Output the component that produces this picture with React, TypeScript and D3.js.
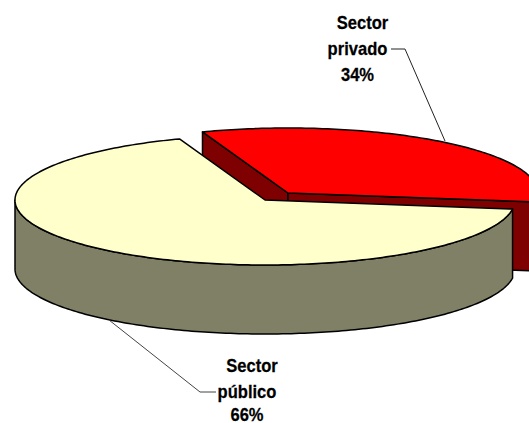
import React from "react";
import * as d3 from "d3";

const categories = ["Sector privado", "Sector público"];
const shares = [34, 66];
const labelLines = [["Sector", "privado", "34%"], ["Sector", "público", "66%"]];
const sliceColors = ["#FF0000", "#FFFFCC"];
const wallColors = ["#7F0000", "#808066"];

const deg = Math.PI / 180;
const W = 529, H = 423;
const cx = 265, cy = 200, rx = 250, ry = 65, depth = 69;
const explode = [{ x: 23, y: -7 }, { x: 0, y: 0 }];

// cumulative share -> angle clockwise from the top of the ellipse
const angleOf = d3.scaleLinear().domain([0, 34, 100]).range([-20 * deg, 98 * deg, 340 * deg]);
const pie = d3.pie<number>().sort(null).value(d => d);
const cum = d3.cumsum(shares);
const arcs = pie(shares).map((a, i) => ({
  ...a,
  startAngle: angleOf(i === 0 ? 0 : cum[i - 1]),
  endAngle: angleOf(cum[i]),
}));

const pt = (i: number, t: number, dz = 0): [number, number] => [
  cx + explode[i].x + rx * Math.sin(t),
  cy + explode[i].y - ry * Math.cos(t) + dz,
];
const sample = (a: number, b: number) => {
  const n = Math.max(2, Math.ceil(Math.abs(b - a) / (1 * deg)));
  return d3.range(n + 1).map(k => a + ((b - a) * k) / n);
};
const line = d3.line();

const topPath = (i: number) => {
  const { startAngle: s, endAngle: e } = arcs[i];
  return line([pt(i, s), ...sample(s, e).map(t => pt(i, t)), [cx + explode[i].x, cy + explode[i].y]])! + "Z";
};
const wallPath = (i: number, a: number, b: number) => {
  const ts = sample(a, b);
  return line([...ts.map(t => pt(i, t)), ...ts.slice().reverse().map(t => pt(i, t, depth))])! + "Z";
};
const cutFace = (i: number, t: number) => {
  const c: [number, number] = [cx + explode[i].x, cy + explode[i].y];
  const p = pt(i, t);
  return line([c, p, [p[0], p[1] + depth], [c[0], c[1] + depth]])! + "Z";
};

const leaders: [number, number][][] = [
  [[445, 141], [405, 49], [391, 49]],
  [[109, 320], [200, 392], [216, 392]],
];
const leaderColors = ["#222", "#444"];
const labelAnchors = [
  { x: 357.5, y: [29, 55, 81], sectorDx: 5 },
  { x: 247, y: [372, 398, 421], sectorDx: 5 },
];

const stroke = { stroke: "#000", strokeWidth: 1.5, strokeLinejoin: "round" as const };

export default function App() {
  return (
    <svg width={W} height={H} viewBox={`0 0 ${W} ${H}`} style={{ position: "absolute", left: 0, top: 0, background: "#fff" }}>
      {/* private slice: walls first */}
      <path d={cutFace(0, arcs[0].startAngle)} fill={wallColors[0]} {...stroke} />
      <path d={cutFace(0, arcs[0].endAngle)} fill={wallColors[0]} {...stroke} />
      <path d={wallPath(0, 80 * deg, arcs[0].endAngle)} fill={wallColors[0]} {...stroke} />
      <path d={topPath(0)} fill={sliceColors[0]} {...stroke} />
      {/* public slice */}
      <path d={wallPath(1, arcs[1].startAngle, 270 * deg)} fill={wallColors[1]} {...stroke} />
      <path d={topPath(1)} fill={sliceColors[1]} {...stroke} />
      {leaders.map((l, i) => (
        <path key={categories[i]} d={line(l)!} fill="none" stroke={leaderColors[i]} strokeWidth={1} />
      ))}
      {labelLines.map((lines, i) =>
        lines.map((s, j) => (
          <text
            key={i + "-" + j}
            transform={`translate(${labelAnchors[i].x + (j === 0 ? labelAnchors[i].sectorDx : 0)},${labelAnchors[i].y[j]}) scale(0.92,1)`}
            textAnchor="middle"
            fontFamily="'Liberation Sans', Arial, sans-serif"
            fontWeight="bold"
            fontSize={18}
            stroke="#000"
            strokeWidth={0.25}
            fill="#000"
          >
            {s}
          </text>
        ))
      )}
    </svg>
  );
}
